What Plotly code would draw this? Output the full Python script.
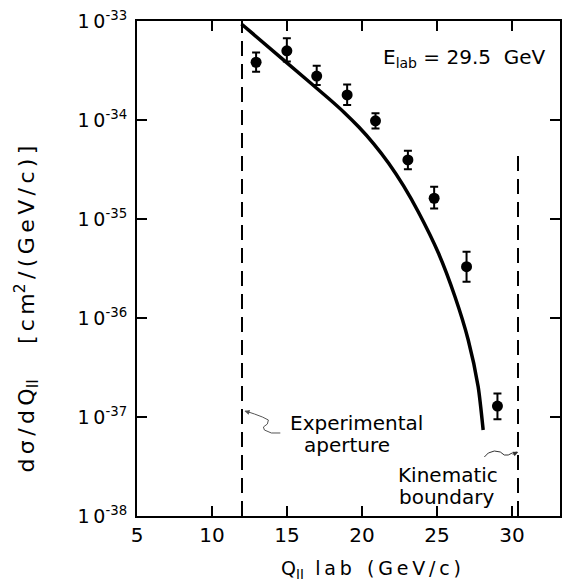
import plotly.graph_objects as go

# Data points (Q_parallel lab, dsigma/dQ) with asymmetric errors
q_data = [12.94, 14.99, 16.98, 19.01, 20.90, 23.06, 24.81, 26.97, 29.03]
xs_data = [3.83e-34, 5.0e-34, 2.78e-34, 1.79e-34, 9.8e-35, 3.95e-35, 1.62e-35, 3.3e-36, 1.29e-37]
err_hi = [4.8e-34, 6.7e-34, 3.54e-34, 2.29e-34, 1.17e-34, 4.9e-35, 2.12e-35, 4.67e-36, 1.73e-37]
err_lo = [3.08e-34, 3.9e-34, 2.26e-34, 1.42e-34, 8.2e-35, 3.18e-35, 1.28e-35, 2.33e-36, 9.5e-38]

# Theory curve
q_curve = [11.963, 14.881, 17.798, 18.793, 19.788, 20.782, 21.777, 22.772, 23.767,
           25.093, 26.200, 27.082, 27.745, 28.077]
xs_curve = [9.33e-34, 3.91e-34, 1.64e-34, 1.20e-34, 8.49e-35, 5.75e-35, 3.66e-35, 2.16e-35,
            1.17e-35, 4.53e-36, 1.64e-36, 6.00e-37, 2.02e-37, 7.40e-38]

# Vertical dashed boundaries
aperture_x = [12.0, 12.0]
aperture_y = [1e-38, 1e-33]
kin_x = [30.4, 30.4]
kin_y = [1e-38, 5.2e-35]

x_ticks = [5, 10, 15, 20, 25, 30]
y_ticks = [1e-38, 1e-37, 1e-36, 1e-35, 1e-34, 1e-33]
y_exps = ["-38", "-37", "-36", "-35", "-34", "-33"]

FONT = "DejaVu Sans"
TS = "\u2009"  # thin space for letter spacing

def spaced(s):
    return TS.join(list(s))

y_ticktext = ["1" + TS + "0<sup>" + e + "</sup>" for e in y_exps]

fig = go.Figure()
fig.add_trace(go.Scatter(x=aperture_x, y=aperture_y, mode="lines",
                         line=dict(color="black", width=2, dash="15px,8px"),
                         showlegend=False, hoverinfo="skip"))
fig.add_trace(go.Scatter(x=kin_x, y=kin_y, mode="lines",
                         line=dict(color="black", width=2, dash="15px,8px"),
                         showlegend=False, hoverinfo="skip"))
fig.add_trace(go.Scatter(x=q_curve, y=xs_curve, mode="lines",
                         line=dict(color="black", width=3.5, shape="spline", smoothing=0.6),
                         showlegend=False))
fig.add_trace(go.Scatter(
    x=q_data, y=xs_data, mode="markers",
    marker=dict(color="black", size=11),
    error_y=dict(type="data", symmetric=False,
                 array=[h - v for h, v in zip(err_hi, xs_data)],
                 arrayminus=[v - l for v, l in zip(xs_data, err_lo)],
                 color="black", thickness=2, width=4),
    showlegend=False))

L, R, T, B = 137, 562, 21, 516
W, H = R - L, B - T
def px(x):
    return (x - L) / W
def py(y):
    return (B - y) / H

ytitle = (spaced("dσ/dQ") + "<sub>II</sub>" + TS * 8 + spaced("[cm") + "<sup>2</sup>"
          + TS + spaced("/(GeV/c)]"))
xtitle = "Q<sub>II</sub>" + TS * 3 + spaced("lab") + TS * 4 + spaced("(GeV/c)")
etitle = "E<sub>lab</sub> = 29.5  GeV"

annotations = [
    dict(text=ytitle, x=px(26), y=py(309), textangle=-90, size=22),
    dict(text=xtitle, x=px(372), y=py(569), size=19),
    dict(text=etitle, x=px(466), y=py(58), size=20),
    dict(text="Experimental", x=px(289), y=py(423), xanchor="left", size=20),
    dict(text="aperture", x=px(303), y=py(445), xanchor="left", size=20),
    dict(text="Kinematic", x=px(397), y=py(475), xanchor="left", size=20),
    dict(text="boundary", x=px(398), y=py(497), xanchor="left", size=20),
]
for a in annotations:
    size = a.pop("size")
    a["font"] = dict(family=FONT, color="black", size=size)
    a.setdefault("xanchor", "center")
    a["yanchor"] = "middle"
    a["xref"] = "paper"
    a["yref"] = "paper"
    a["showarrow"] = False

# arrowheads
annotations += [
    dict(text="", x=px(245), y=py(411), ax=7, ay=2, showarrow=True, arrowhead=2,
         arrowsize=1, arrowwidth=1, arrowcolor="#555", xref="paper", yref="paper"),
    dict(text="", x=px(520), y=py(452), ax=-7, ay=3, showarrow=True, arrowhead=2,
         arrowsize=1, arrowwidth=1, arrowcolor="#333", xref="paper", yref="paper"),
]

def path_pts(pts):
    s = "M %f,%f" % (px(pts[0][0]), py(pts[0][1]))
    for (x, y) in pts[1:]:
        s += " L %f,%f" % (px(x), py(y))
    return s

shapes = [
    dict(type="path", xref="paper", yref="paper",
         path=path_pts([(281, 433), (272, 433), (265, 430), (264, 427), (268, 424),
                        (269, 420), (263, 417), (255, 414), (246, 411)]),
         line=dict(color="#555", width=1)),
    dict(type="path", xref="paper", yref="paper",
         path=path_pts([(486, 457), (490, 453), (496, 451), (502, 452), (506, 455),
                        (510, 455), (514, 453), (519, 452)]),
         line=dict(color="#333", width=1)),
]

axis_common = dict(showline=True, linewidth=2, linecolor="black", mirror="ticks",
                   ticks="inside", ticklen=10, tickwidth=2, tickcolor="black",
                   showgrid=False, zeroline=False)

fig.update_layout(
    width=562, height=585,
    margin=dict(l=L, r=562 - R, t=T, b=585 - B),
    paper_bgcolor="white", plot_bgcolor="white",
    xaxis=dict(range=[5, 33.2], tickvals=x_ticks, ticktext=[str(v) for v in x_ticks],
               tickfont=dict(family=FONT, size=20, color="black"), **axis_common),
    yaxis=dict(type="log", range=[-38, -33], tickvals=y_ticks, ticktext=y_ticktext,
               ticklabelstandoff=4, tickfont=dict(family=FONT, size=19, color="black"),
               **axis_common),
    annotations=annotations,
    shapes=shapes,
    font=dict(family=FONT, color="black"),
)

fig.write_html("out.html")
